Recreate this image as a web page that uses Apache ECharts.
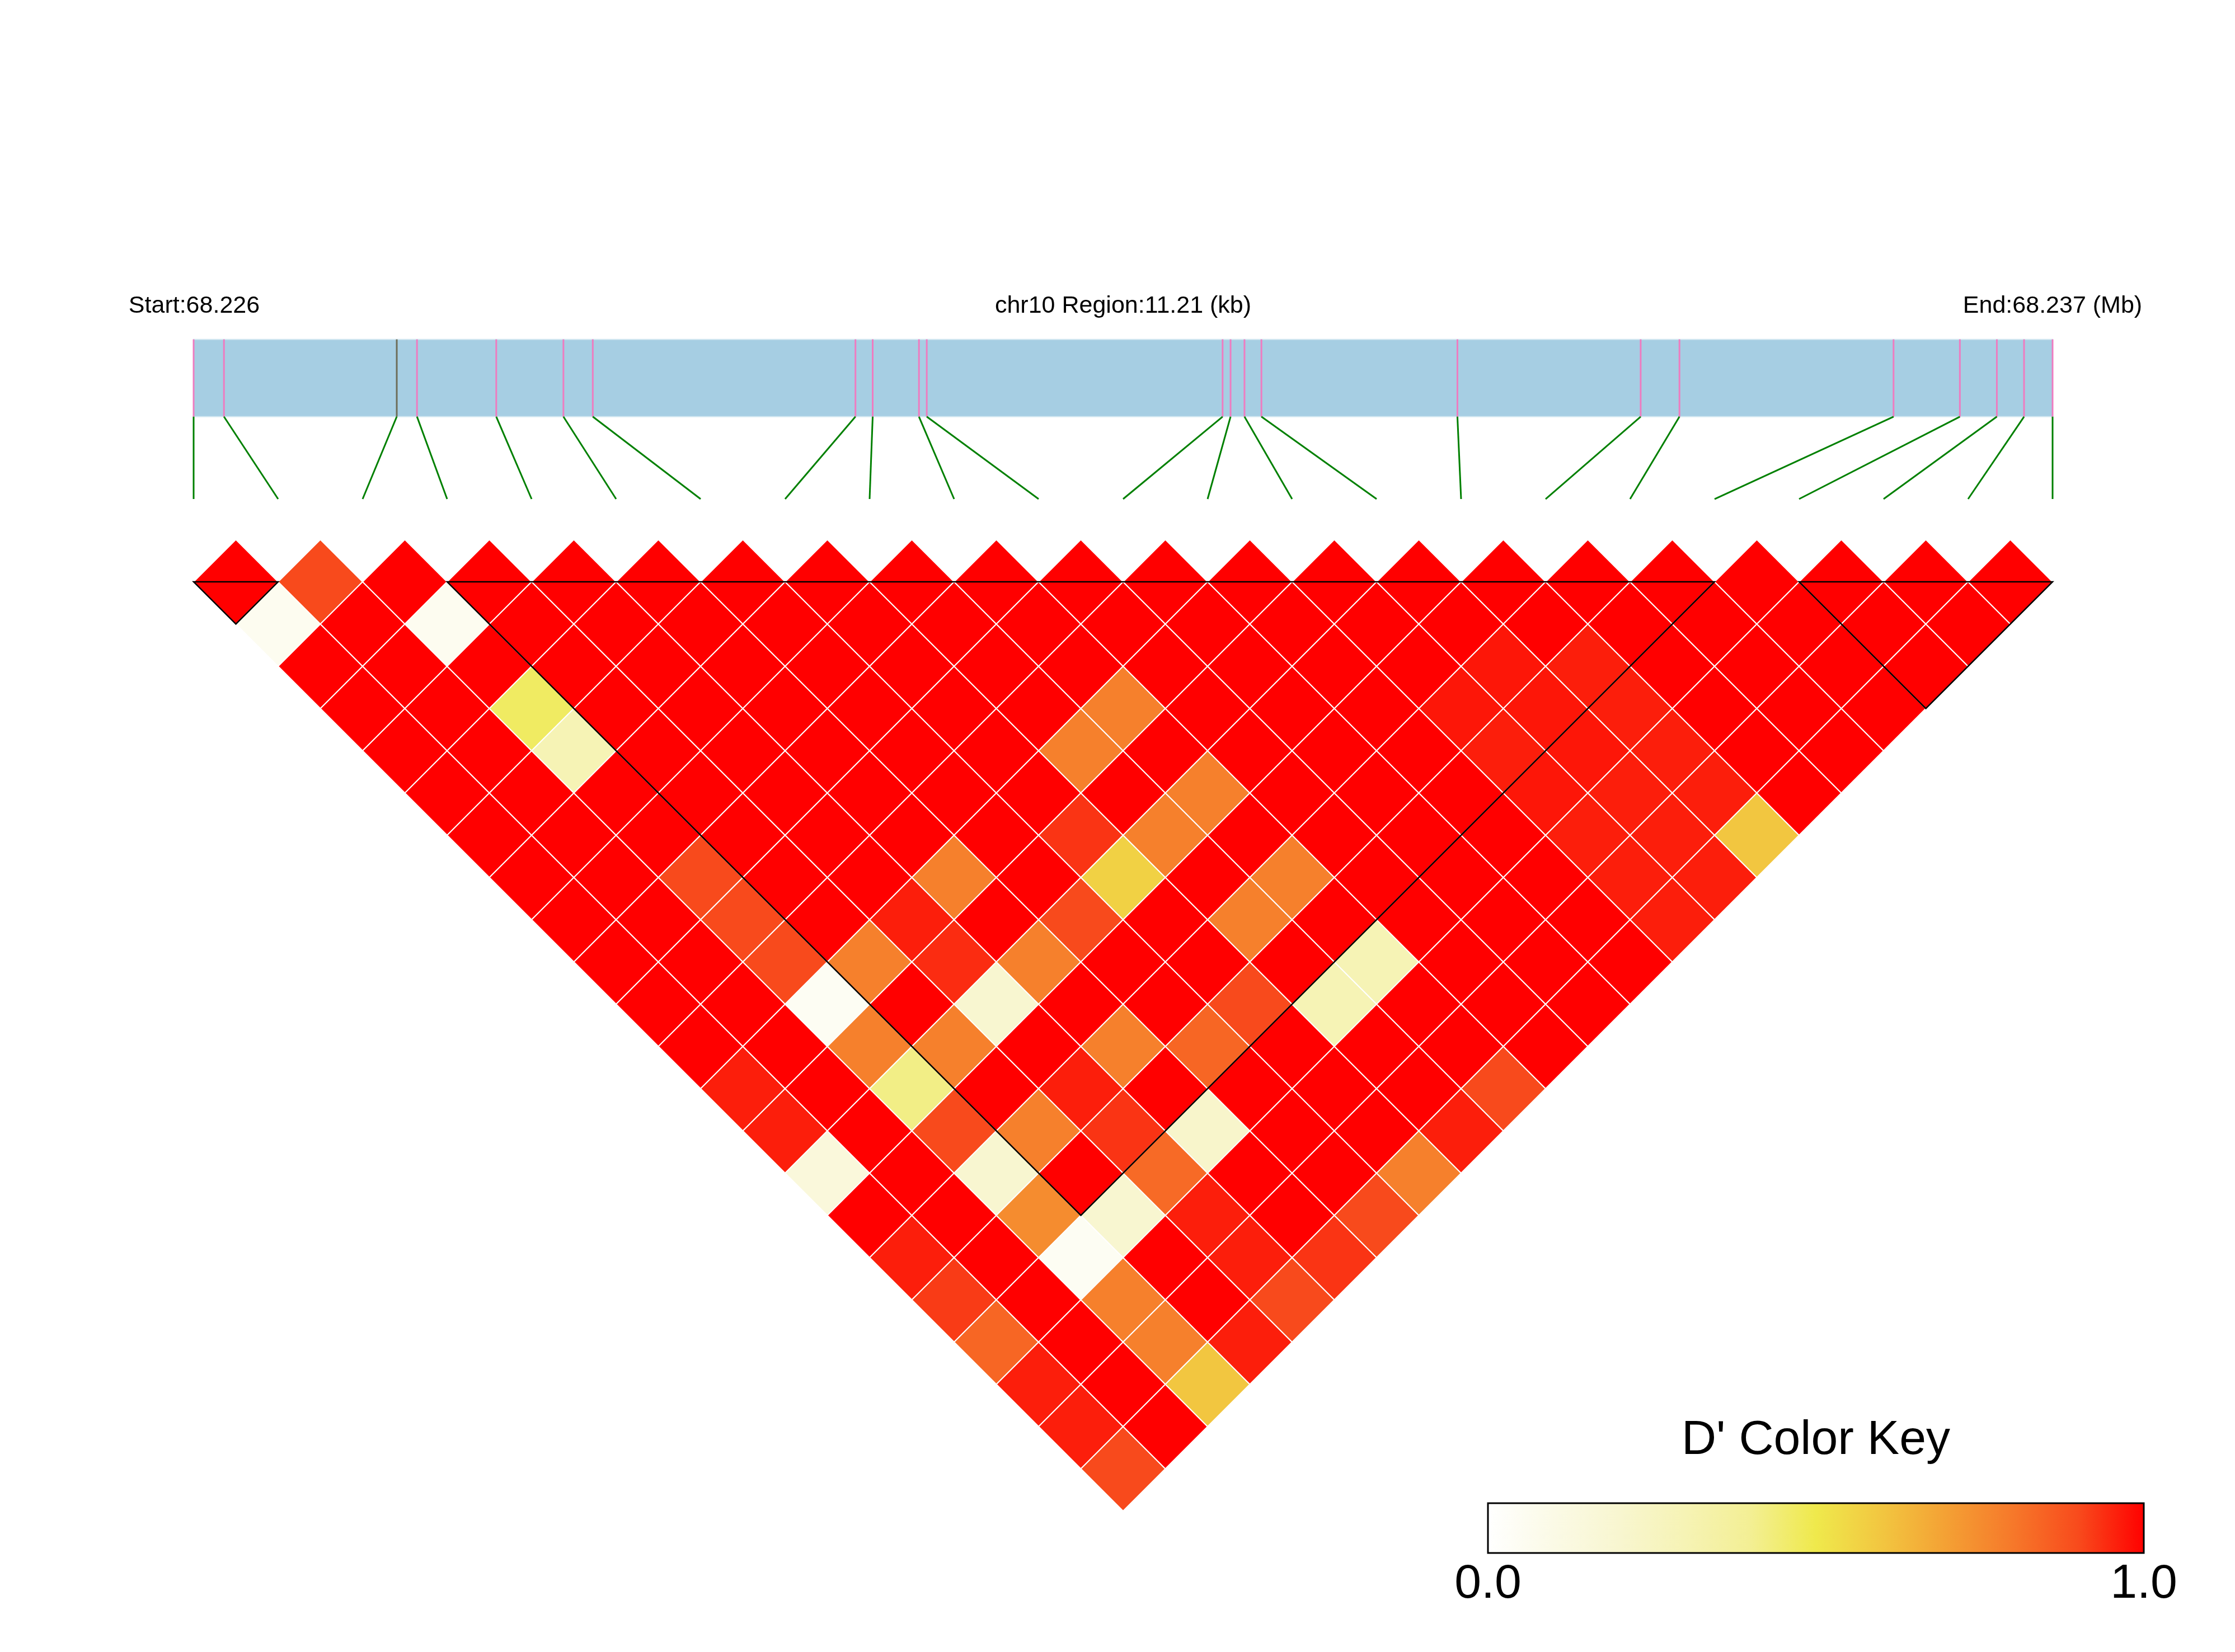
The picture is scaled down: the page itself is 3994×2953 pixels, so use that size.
<!DOCTYPE html>
<html>
<head>
<meta charset="utf-8">
<title>LD heatmap chr10:68.226-68.237 Mb</title>
<script src="https://cdn.jsdelivr.net/npm/echarts@6.0.0/dist/echarts.min.js"></script>
<style>
  html, body { margin: 0; padding: 0; background: #ffffff; }
  #chart { width: 3994px; height: 2953px; }
</style>
</head>
<body>
<div id="chart"></div>
<script>
  // SNP positions, kb from region start (68.226 Mb)
  const snpPosKb = [0.000, 0.183, 1.225, 1.347, 1.825, 2.230, 2.407, 3.991, 4.095, 4.374, 4.421,
    6.205, 6.253, 6.337, 6.439, 7.621, 8.726, 8.960, 10.251, 10.651, 10.874, 11.038, 11.210]
  const regionKb = 11.21
  const startLabel = 'Start:68.226'
  const regionLabel = 'chr10 Region:11.21 (kb)'
  const endLabel = 'End:68.237 (Mb)'

  // D' values, row i holds pairs (i, j) for j = i+1 .. 22
  const dprime = [
    [1, 0.06, 1, 1, 1, 1, 1, 1, 1, 1, 1, 1, 0.96, 0.96, 0.15, 1, 0.96, 0.92, 0.84, 0.96, 0.96, 0.9],
    [0.9, 1, 1, 1, 1, 1, 1, 1, 1, 1, 1, 1, 1, 1, 1, 1, 1, 1, 1, 1, 1],
    [1, 0.06, 1, 0.47, 0.3, 1, 1, 0.9, 0.9, 0.9, 0.05, 0.78, 0.42, 0.9, 0.2, 0.75, 0.05, 0.78, 0.78, 0.6],
    [1, 1, 1, 1, 1, 1, 1, 1, 1, 0.78, 1, 0.78, 1, 0.78, 1, 0.2, 1, 1, 0.96],
    [1, 1, 1, 1, 1, 1, 1, 1, 0.96, 0.94, 0.2, 1, 0.96, 0.93, 0.83, 0.96, 0.96, 0.9],
    [1, 1, 1, 1, 1, 1, 1, 0.78, 1, 0.78, 1, 0.78, 1, 0.22, 1, 1, 0.93],
    [1, 1, 1, 1, 1, 1, 1, 1, 0.9, 1, 1, 0.84, 1, 1, 1, 0.9],
    [1, 1, 1, 1, 1, 1, 0.93, 0.57, 1, 1, 0.9, 1, 1, 1, 0.78],
    [1, 1, 1, 1, 0.78, 1, 0.78, 1, 0.78, 1, 0.3, 1, 1, 0.96],
    [1, 1, 1, 0.78, 1, 0.78, 1, 0.78, 1, 0.3, 1, 1, 0.9],
    [1, 1, 1, 1, 1, 1, 1, 1, 1, 1, 1, 1],
    [1, 1, 1, 1, 1, 1, 1, 1, 1, 1, 1],
    [1, 1, 1, 1, 1, 1, 1, 1, 1, 1],
    [1, 1, 1, 0.97, 0.96, 0.97, 0.96, 0.96, 0.96],
    [1, 1, 0.97, 0.97, 0.97, 0.96, 0.96, 0.96],
    [1, 1, 0.96, 0.96, 0.96, 0.96, 0.6],
    [1, 1, 1, 1, 1, 1],
    [1, 1, 1, 1, 1],
    [1, 1, 1, 1],
    [1, 1, 1],
    [1, 1],
    [1]
  ]

  // LD blocks (first SNP, last SNP)
  const ldBlocks = [[0, 1], [3, 18], [19, 22]]

  // D' colour key, 0.0 .. 1.0
  const keyColors = ['#FFFFFF', '#FBFAE6', '#F8F6D0', '#F6F3B5', '#F3EF94', '#EFE94C',
    '#F2C640', '#F4A034', '#F6782A', '#F84A1C', '#FF0000']
  const keyTicks = ['0.0', '1.0']

  const FONT = '"Liberation Sans", Arial, Helvetica, sans-serif'
  const nSpan = snpPosKb.length - 1
  // y units: 0 = top edge of triangle, same pixel scale as x
  const BAR_TOP = -2.87, BAR_BOTTOM = -1.955, LINK_BOTTOM = -0.98

  let cells = []
  dprime.forEach(function (row, i) {
    row.forEach(function (v, k) {
      let j = i + 1 + k
      cells.push([(i + j) / 2, (j - i - 1) / 2, v, i, j])
    })
  })

  const chart = echarts.init(document.getElementById('chart'))

  const option = {
    backgroundColor: '#ffffff',
    animation: false,
    grid: { left: 346, right: 326, top: 587, bottom: 252 },
    xAxis: { type: 'value', min: 0, max: nSpan, show: false },
    yAxis: { type: 'value', min: -3, max: 11, inverse: true, show: false },
    visualMap: {
      type: 'continuous', show: false, min: 0, max: 1,
      dimension: 2, seriesIndex: 0,
      inRange: { color: keyColors }
    },
    series: [
      {
        // LD cells as rotated squares
        name: 'dprime',
        type: 'custom',
        silent: true,
        data: cells,
        encode: { x: 0, y: 1 },
        renderItem: function (params, api) {
          let cx = api.value(0), cy = api.value(1)
          let pts = [[cx, cy - 0.5], [cx + 0.5, cy], [cx, cy + 0.5], [cx - 0.5, cy]].map(function (p) {
            return api.coord(p)
          })
          return {
            type: 'polygon',
            shape: { points: pts },
            style: { fill: api.visual('color'), stroke: '#ffffff', lineWidth: 2 }
          }
        }
      },
      {
        // block outlines
        name: 'blocks',
        type: 'custom',
        silent: true,
        z: 5,
        data: ldBlocks,
        renderItem: function (params, api) {
          let a = api.value(0), b = api.value(1)
          let pts = [[a, 0], [b, 0], [(a + b) / 2, (b - a) / 2]].map(function (p) {
            return api.coord(p)
          })
          return {
            type: 'polygon',
            shape: { points: pts },
            style: { fill: 'none', stroke: '#000000', lineWidth: 2.5 }
          }
        }
      },
      {
        // region bar
        name: 'region',
        type: 'custom',
        silent: true,
        data: [[0, regionKb]],
        renderItem: function (params, api) {
          let p0 = api.coord([0, BAR_TOP])
          let p1 = api.coord([nSpan, BAR_BOTTOM])
          return {
            type: 'rect',
            shape: { x: p0[0], y: p0[1], width: p1[0] - p0[0], height: p1[1] - p0[1] },
            style: { fill: '#A6CEE3', stroke: '#D2E7F1', lineWidth: 2 }
          }
        }
      },
      {
        // SNP ticks on the bar + links to the heatmap
        name: 'snps',
        type: 'custom',
        silent: true,
        z: 3,
        data: snpPosKb.map(function (p, i) { return [p, i] }),
        renderItem: function (params, api) {
          let px = api.value(0) / regionKb * nSpan
          let idx = api.value(1)
          let t0 = api.coord([px, BAR_TOP]), t1 = api.coord([px, BAR_BOTTOM])
          let l1 = api.coord([idx, LINK_BOTTOM])
          return {
            type: 'group',
            children: [
              {
                type: 'line',
                shape: { x1: t0[0], y1: t0[1], x2: t1[0], y2: t1[1] },
                style: { stroke: idx === 2 ? '#6E6E5A' : '#EE7CC0', lineWidth: 3 }
              },
              {
                type: 'line',
                shape: { x1: t1[0], y1: t1[1], x2: l1[0], y2: l1[1] },
                style: { stroke: '#008000', lineWidth: 3 }
              }
            ]
          }
        }
      }
    ],
    graphic: [
      { type: 'text', x: 347, y: 547, silent: true,
        style: { text: startLabel, font: '43px ' + FONT, fill: '#000', align: 'center', verticalAlign: 'middle' } },
      { type: 'text', x: 2007, y: 547, silent: true,
        style: { text: regionLabel, font: '43px ' + FONT, fill: '#000', align: 'center', verticalAlign: 'middle' } },
      { type: 'text', x: 3668, y: 547, silent: true,
        style: { text: endLabel, font: '43px ' + FONT, fill: '#000', align: 'center', verticalAlign: 'middle' } },
      // colour key
      { type: 'text', x: 3245, y: 2575, silent: true,
        style: { text: "D' Color Key", font: '86px ' + FONT, fill: '#000', align: 'center', verticalAlign: 'middle' } },
      { type: 'rect', x: 2659, y: 2687, silent: true,
        shape: { width: 1172, height: 89 },
        style: {
          fill: new echarts.graphic.LinearGradient(0, 0, 1, 0, keyColors.map(function (c, k) {
            return { offset: k / (keyColors.length - 1), color: c }
          })),
          stroke: '#000', lineWidth: 3
        } },
      { type: 'text', x: 2659, y: 2832, silent: true,
        style: { text: keyTicks[0], font: '86px ' + FONT, fill: '#000', align: 'center', verticalAlign: 'middle' } },
      { type: 'text', x: 3831, y: 2832, silent: true,
        style: { text: keyTicks[1], font: '86px ' + FONT, fill: '#000', align: 'center', verticalAlign: 'middle' } }
    ]
  }

  chart.setOption(option)
</script>
</body>
</html>
